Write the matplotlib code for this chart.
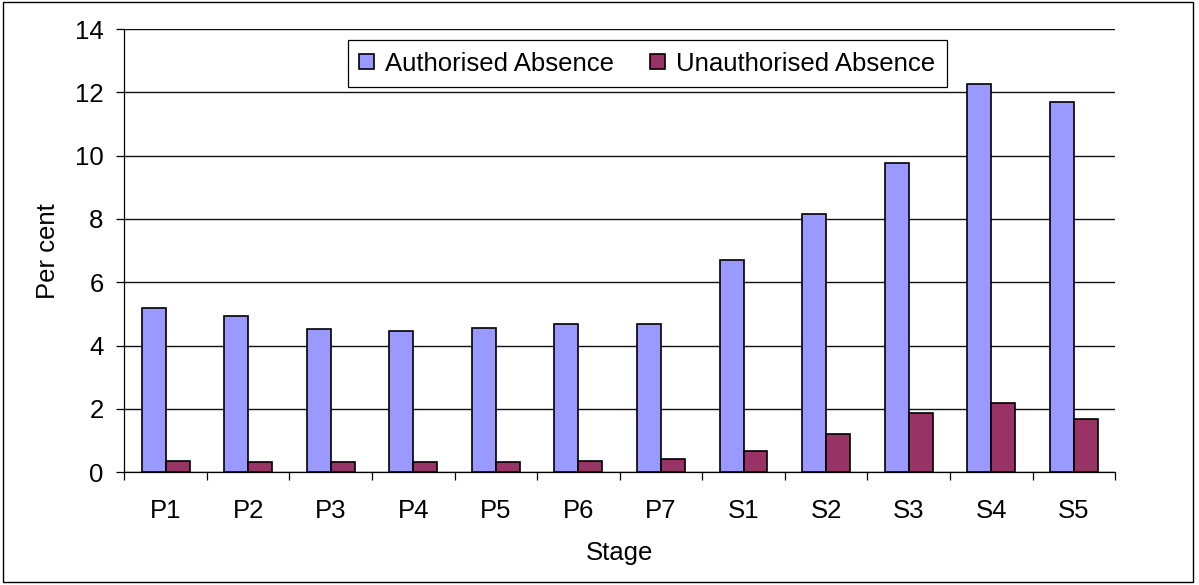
import matplotlib.pyplot as plt
import matplotlib.patches as patches
import numpy as np

plt.rcParams['font.family'] = ['Liberation Sans', 'DejaVu Sans']

stages = ['P1', 'P2', 'P3', 'P4', 'P5', 'P6', 'P7', 'S1', 'S2', 'S3', 'S4', 'S5']
authorised = [5.2, 4.94, 4.53, 4.47, 4.57, 4.68, 4.68, 6.71, 8.16, 9.77, 12.26, 11.69]
unauthorised = [0.36, 0.31, 0.31, 0.31, 0.31, 0.36, 0.42, 0.68, 1.2, 1.88, 2.2, 1.67]

fs = 18.5
fig = plt.figure(figsize=(11.99, 5.85), dpi=100)
ax = fig.add_axes([0.1037, 0.1927, 0.8263, 0.7577])

x = np.arange(len(stages))
w = 0.29
ax.bar(x - w/2, authorised, w, color='#9999FF', edgecolor='black', linewidth=1.2,
       label='Authorised Absence', zorder=3)
ax.bar(x + w/2, unauthorised, w, color='#993366', edgecolor='black', linewidth=1.2,
       label='Unauthorised Absence', zorder=3)

ax.set_xlim(-0.5, len(stages) - 0.5)
ax.set_ylim(0, 14)
ax.set_yticks(np.arange(0, 15, 2))
ax.yaxis.grid(True, color='#111111', linewidth=1.0, zorder=0)

# ticks at category boundaries, labels at centres
ax.set_xticks(np.arange(len(stages) + 1) - 0.5)
ax.set_xticklabels([])
ax.set_xticks(x, minor=True)
ax.set_xticklabels(stages, minor=True)
ax.tick_params(axis='x', which='major', length=6, width=0.9, direction='out')
ax.tick_params(axis='x', which='minor', length=0, pad=19, labelsize=fs)
ax.tick_params(axis='y', length=6, width=0.9, pad=9, labelsize=fs)

for s in ['top', 'right']:
    ax.spines[s].set_visible(False)
ax.spines['left'].set_linewidth(0.9)
ax.spines['bottom'].set_linewidth(0.9)

ax.set_xlabel('Stage', fontsize=fs)
ax.xaxis.set_label_coords(0.5, -0.155)
ax.set_ylabel('Per cent', fontsize=fs)
ax.yaxis.set_label_coords(-0.065, 0.5)

leg = ax.legend(loc='upper center', bbox_to_anchor=(0.528, 0.975), ncol=2,
                fontsize=fs, frameon=True, fancybox=False, framealpha=1,
                edgecolor='black', handlelength=0.56, handleheight=0.56,
                handletextpad=0.45, columnspacing=1.4, borderpad=0.45,
                borderaxespad=0)
leg.get_frame().set_linewidth(0.9)

# outer chart border
fig.patches.append(patches.Rectangle((0.0025, 0.005), 0.9925, 0.991, transform=fig.transFigure,
                                     fill=False, edgecolor='black', linewidth=1.0))

plt.savefig('out.png', dpi=100)
